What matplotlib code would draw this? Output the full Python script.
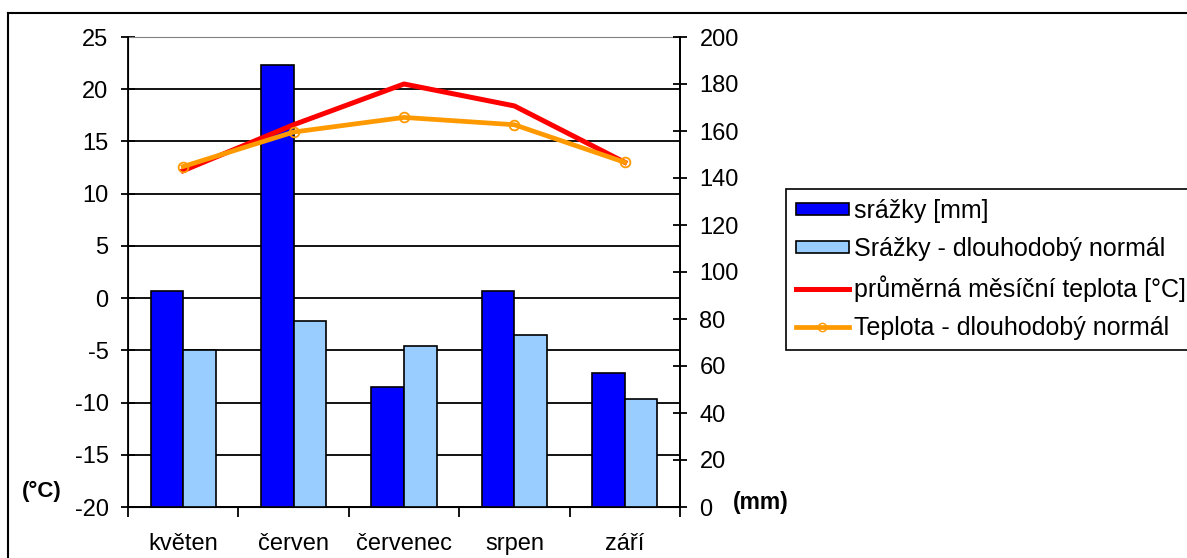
import numpy as np
import matplotlib.pyplot as plt
from matplotlib.patches import Patch
from matplotlib.lines import Line2D

plt.rcParams['font.family'] = ['Liberation Sans', 'DejaVu Sans']
plt.rcParams['axes.unicode_minus'] = False

# Monthly data
mesice = ['květen', 'červen', 'červenec', 'srpen', 'září']
srazky = [92, 188, 51, 92, 57]
srazky_normal = [67, 79, 68.5, 73, 46]
teplota = [12.2, 16.6, 20.5, 18.4, 13.0]
teplota_normal = [12.6, 15.9, 17.3, 16.6, 13.0]

x = np.arange(len(mesice))
w = 0.295

fig = plt.figure(figsize=(11.87, 5.58), dpi=100)
ax = fig.add_axes([128 / 1187, 1 - 507 / 558, 552 / 1187, 470 / 558])

# temperature axis (left) with the horizontal grid
ax.set_ylim(-20, 25)
ax.set_yticks(np.arange(-20, 26, 5))
ax.set_xlim(-0.5, len(mesice) - 0.5)
ax.yaxis.grid(True, color='black', linewidth=1.3)
ax.set_axisbelow(True)
ax.tick_params(axis='y', direction='inout', length=10, width=1.3, labelsize=17, pad=9)
ax.set_xticks(np.arange(-0.5, len(mesice), 1))
ax.set_xticklabels([])
ax.set_xticks(x, minor=True)
ax.set_xticklabels(mesice, minor=True, fontsize=17)
ax.tick_params(axis='x', which='major', direction='out', length=7, width=1.3)
ax.tick_params(axis='x', which='minor', length=0, pad=19)
for s in ['left', 'bottom', 'right']:
    ax.spines[s].set_linewidth(1.3)
ax.spines['top'].set_color('#808080')

# precipitation bars (right axis)
ax2 = ax.twinx()
ax2.bar(x - w / 2, srazky, w, color='#0000FF', edgecolor='black', linewidth=1.2, zorder=2)
ax2.bar(x + w / 2, srazky_normal, w, color='#99CCFF', edgecolor='black', linewidth=1.2, zorder=2)
ax2.set_ylim(0, 200)
ax2.set_yticks(np.arange(0, 201, 20))
ax2.tick_params(axis='y', direction='inout', length=10, width=1.3, labelsize=17, pad=9)
ax2.spines['right'].set_linewidth(1.3)
ax2.spines['top'].set_visible(False)

# temperature lines on top
ax3 = ax.twinx()
ax3.set_ylim(-20, 25)
ax3.axis('off')
ax3.plot(x, teplota, color='#FF0000', linewidth=3.6, zorder=3)
ax3.plot(x, teplota_normal, color='#FF9900', linewidth=3.4, marker='o', markersize=7,
         markerfacecolor='none', markeredgecolor='#FF9900', markeredgewidth=1.3, zorder=4)

fig.text(22 / 1187, 1 - 491 / 558, '(°C)', fontsize=16, fontweight='bold', va='center')
fig.text(733 / 1187, 1 - 502 / 558, '(mm)', fontsize=16.5, fontweight='bold', va='center')

# outer chart border
fig.add_artist(Line2D([8 / 1187, 8 / 1187], [0, 1 - 13 / 558], color='black', linewidth=1.5))
fig.add_artist(Line2D([8 / 1187, 1], [1 - 13 / 558, 1 - 13 / 558], color='black', linewidth=1.5))

handles = [
    Patch(facecolor='#0000FF', edgecolor='black', linewidth=1.2),
    Patch(facecolor='#99CCFF', edgecolor='black', linewidth=1.2),
    Line2D([], [], color='#FF0000', linewidth=3.6),
    Line2D([], [], color='#FF9900', linewidth=3.4, marker='o', markersize=6,
           markerfacecolor='none', markeredgecolor='#FF9900'),
]
labels = ['srážky [mm]', 'Srážky - dlouhodobý normál',
          'průměrná měsíční teplota [°C]', 'Teplota - dlouhodobý normál']
leg = fig.legend(handles, labels, loc='upper left', bbox_to_anchor=(786 / 1187, 1 - 189 / 558),
                 fontsize=18, frameon=True, fancybox=False, framealpha=1, edgecolor='black',
                 handlelength=2.1, handleheight=0.36, handletextpad=0.2, labelspacing=0.56,
                 borderpad=0.4, borderaxespad=0)
leg.get_frame().set_linewidth(1.2)

fig.savefig('out.png', dpi=100)
